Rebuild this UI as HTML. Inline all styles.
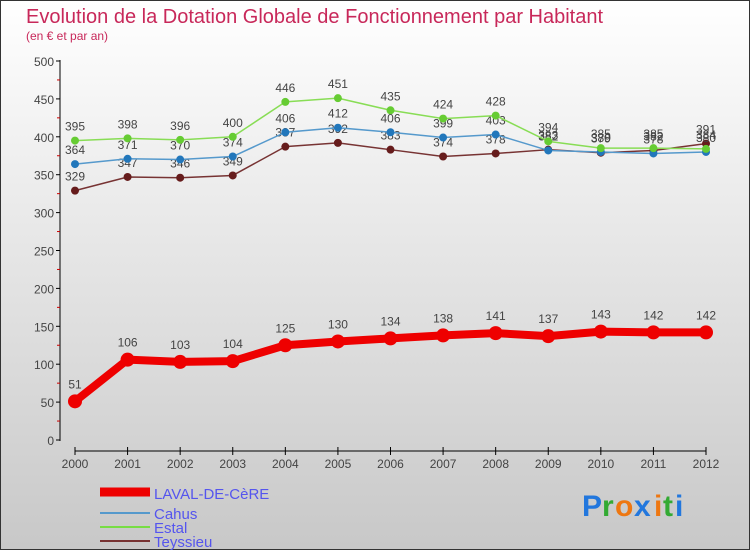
<!DOCTYPE html>
<html><head><meta charset="utf-8"><style>
body{margin:0}
#c{width:750px;height:550px;position:relative;font-family:"Liberation Sans",sans-serif;overflow:hidden}
</style></head><body>
<div id="c">
<svg id="s" width="750" height="550" xmlns="http://www.w3.org/2000/svg">
<defs><linearGradient id="bg" x1="0" y1="0" x2="0" y2="1"><stop offset="0" stop-color="#ffffff"/><stop offset="1" stop-color="#c8c8c8"/></linearGradient></defs>
<rect x="0.5" y="0.5" width="749" height="549" fill="url(#bg)" stroke="#333"/>
<text x="26" y="23" font-size="20" fill="#c8285a">Evolution de la Dotation Globale de Fonctionnement par Habitant</text>
<text x="26" y="40" font-size="12" fill="#c8285a">(en € et par an)</text>
<g id="axes"></g><g id="series"></g>
<g>
<line x1="100" y1="492" x2="150" y2="492" stroke="#ee0000" stroke-width="9"/>
<text x="154" y="499" font-size="15" fill="#5555ee">LAVAL-DE-CèRE</text>
<line x1="100" y1="513" x2="150" y2="513" stroke="#5599cc" stroke-width="2"/>
<text x="154" y="519" font-size="15" fill="#5555ee">Cahus</text>
<line x1="100" y1="527" x2="150" y2="527" stroke="#77dd44" stroke-width="2"/>
<text x="154" y="533" font-size="15" fill="#5555ee">Estal</text>
<line x1="100" y1="541" x2="150" y2="541" stroke="#773333" stroke-width="2"/>
<text x="154" y="547" font-size="15" fill="#5555ee">Teyssieu</text>
</g>
<g font-size="30" font-weight="bold">
<text x="582" y="516" fill="#2277dd">P</text><text x="602" y="516" fill="#33aa33">r</text><text x="615" y="516" fill="#ee7711">o</text><text x="634" y="516" fill="#2277dd">x</text><text x="654" y="516" fill="#ee7711">i</text><text x="663" y="516" fill="#33aa33">t</text><text x="675" y="516" fill="#2277dd">i</text>
</g>
</svg></div>
<script>
const years=[2000,2001,2002,2003,2004,2005,2006,2007,2008,2009,2010,2011,2012];
const laval=[51,106,103,104,125,130,134,138,141,137,143,142,142];
const cahus=[364,371,370,374,406,412,406,399,403,382,380,378,380];
const estal=[395,398,396,400,446,451,435,424,428,394,385,385,384];
const teyssieu=[329,347,346,349,387,392,383,374,378,383,379,382,391];
const yTicks=[0,50,100,150,200,250,300,350,400,450,500];
const NS="http://www.w3.org/2000/svg";
const xs=i=>75+i*(631/12), ys=v=>440-v*0.758;
function mk(t,a,p){const e=document.createElementNS(NS,t);for(const k in a)e.setAttribute(k,a[k]);p.appendChild(e);return e;}
const ax=document.getElementById('axes'), sg=document.getElementById('series');
let yl=mk('line',{x1:60,y1:60,x2:60,y2:441,stroke:'#000'},ax);


let xl=mk('line',{x1:75,y1:451,x2:706,y2:451,stroke:'#000'},ax);


yTicks.forEach(v=>{const y=ys(v);mk('line',{x1:56,y1:y,x2:60,y2:y,stroke:'#000'},ax);
 if(v<500)mk('line',{x1:57,y1:ys(v+25),x2:60,y2:ys(v+25),stroke:'#c00'},ax);
 const t=mk('text',{x:54,y:y+5,'font-size':12,fill:'#444','text-anchor':'end'},ax);t.textContent=v;
 
 });
years.forEach((yr,i)=>{const x=xs(i);mk('line',{x1:x,y1:447,x2:x,y2:455,stroke:'#000'},ax);
 const t=mk('text',{x:x,y:468,'font-size':12,fill:'#444','text-anchor':'middle'},ax);t.textContent=yr;
 
 });
function series(d,col,dot,w,r,name){const g=mk('g',{},sg);
 
 
 mk('polyline',{points:d.map((v,i)=>xs(i)+','+ys(v)).join(' '),fill:'none',stroke:col,'stroke-width':w,'stroke-linejoin':'round'},g);
 d.forEach((v,i)=>{const c=mk('circle',{cx:xs(i),cy:ys(v),r:r,fill:dot},g);
  
  
  const t=mk('text',{x:xs(i),y:ys(v)-(r+6),'font-size':12,fill:'#444','text-anchor':'middle'},g);t.textContent=v;
  
  });}
series(teyssieu,'#773333','#661c1c',1.5,4,'teyssieu');
series(cahus,'#5599cc','#2277bb',1.5,4,'cahus');
series(estal,'#88dd55','#66cc33',1.5,4,'estal');
series(laval,'#ee0000','#ee0000',8,7,'laval');
</script>
</body></html>
